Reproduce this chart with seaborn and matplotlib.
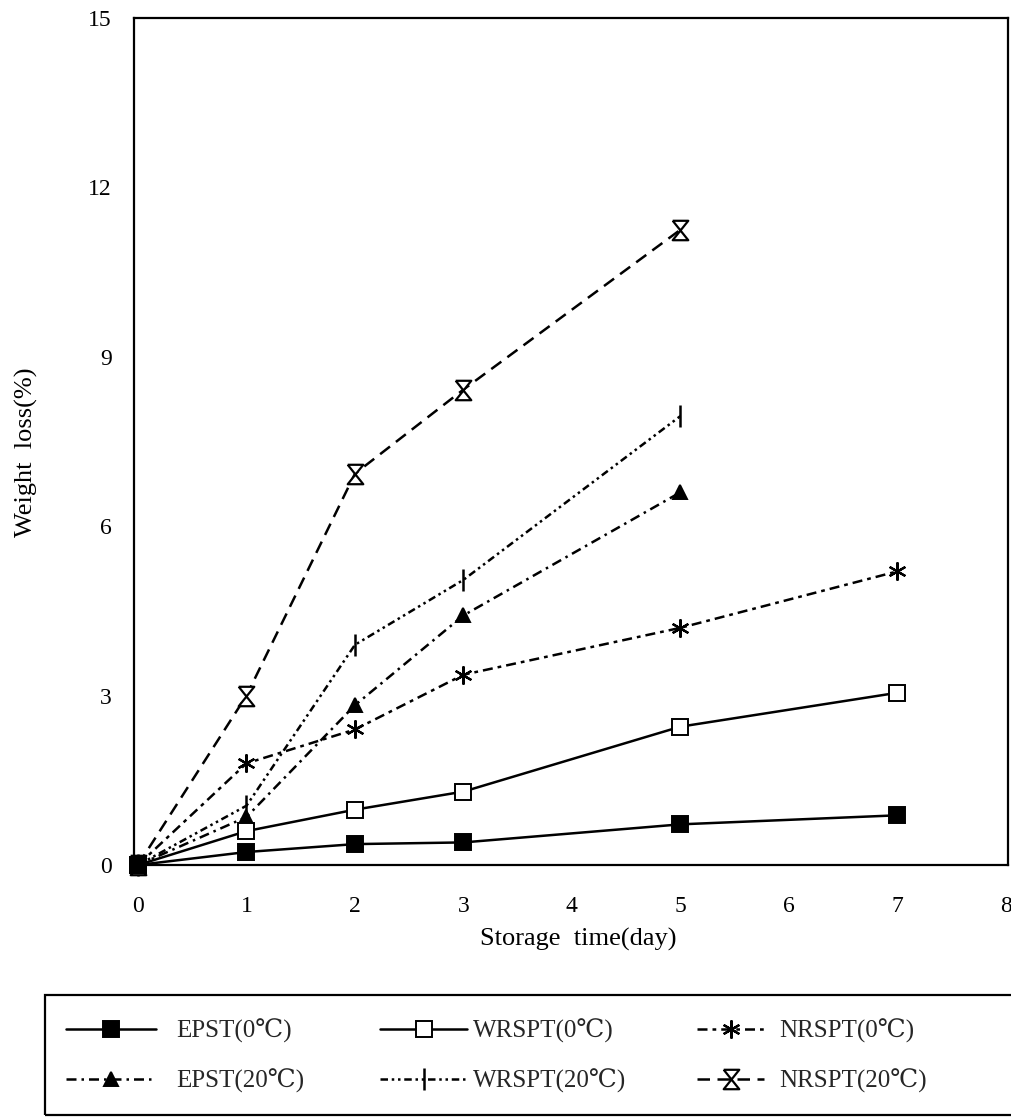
import matplotlib
matplotlib.use("Agg")
import matplotlib.pyplot as plt
import seaborn as sns
from matplotlib.lines import Line2D
from matplotlib.patches import Rectangle

sns.set_theme(style="white")
plt.rcParams['font.family'] = ['Liberation Serif', 'DejaVu Serif']

days_a = [0, 1, 2, 3, 5, 7]
days_b = [0, 1, 2, 3, 5]

epst_0 = [0, 0.23, 0.37, 0.4, 0.72, 0.88]
wrspt_0 = [0, 0.6, 0.98, 1.3, 2.45, 3.05]
nrspt_0 = [0, 1.8, 2.4, 3.37, 4.2, 5.2]
epst_20 = [0, 0.85, 2.83, 4.42, 6.6]
wrspt_20 = [0, 1.05, 3.9, 5.05, 7.95]
nrspt_20 = [0, 3.0, 6.93, 8.42, 11.25]

labels = ["EPST(0℃)", "WRSPT(0℃)", "NRSPT(0℃)",
          "EPST(20℃)", "WRSPT(20℃)", "NRSPT(20℃)"]

x_ticks = [0, 1, 2, 3, 4, 5, 6, 7, 8]
y_ticks = [0, 3, 6, 9, 12, 15]

hourglass = [(-0.8, 1), (0.8, 1), (-0.8, -1), (0.8, -1), (-0.8, 1)]

styles = {
    labels[0]: dict(marker='s', ms=11, mfc='black', ls='-', mew=1.4, z=5),
    labels[1]: dict(marker='s', ms=11, mfc='white', ls='-', mew=1.4, z=3),
    labels[2]: dict(marker=(6, 2, 0), ms=13, mfc='black', ls=(0, (4, 2, 1.5, 2)), mew=1.6, z=2),
    labels[3]: dict(marker='^', ms=10, mfc='black', ls=(0, (4, 2, 1, 2)), mew=1.4, z=2),
    labels[4]: dict(marker='|', ms=16, mfc='black', ls=(0, (3, 1.5, 1, 1.5, 1, 1.5)), mew=1.8, z=2),
    labels[5]: dict(marker=hourglass, ms=14, mfc='white', ls=(0, (5, 3)), mew=1.6, z=2),
}
data = {
    labels[0]: (days_a, epst_0),
    labels[1]: (days_a, wrspt_0),
    labels[2]: (days_a, nrspt_0),
    labels[3]: (days_b, epst_20),
    labels[4]: (days_b, wrspt_20),
    labels[5]: (days_b, nrspt_20),
}

W, H = 1012, 1117
fig = plt.figure(figsize=(W / 100, H / 100), dpi=100)
ax = fig.add_axes([134 / W, 1 - 865 / H, 874 / W, 847 / H])

handles = {}
for lab in labels:
    xs, ys = data[lab]
    st = styles[lab]
    sns.lineplot(x=xs, y=ys, ax=ax, color='black', linewidth=1.8,
                 linestyle=st['ls'], marker=st['marker'], ms=st['ms'],
                 mfc=st['mfc'], mec='black', mew=st['mew'], zorder=st['z'],
                 clip_on=False)
    handles[lab] = Line2D([0], [0], color='black', linewidth=1.8, linestyle=st['ls'],
                          marker=st['marker'], ms=st['ms'], mfc=st['mfc'],
                          mec='black', mew=st['mew'])

ax.set_xlim(-0.037, 8.02)
ax.set_ylim(0, 15)
ax.set_xticks(x_ticks)
ax.set_yticks(y_ticks)
ax.tick_params(direction='inout', length=20, width=1.5, color='black',
               labelsize=17, labelcolor='black')
ax.tick_params(axis='x', pad=12)
ax.tick_params(axis='y', pad=6)
for sp in ax.spines.values():
    sp.set_color('black')
    sp.set_linewidth(1.6)

ax.set_xlabel("Storage  time(day)", fontsize=19, color='black')
ax.set_ylabel("Weight  loss(%)", fontsize=19, color='black')
ax.xaxis.set_label_coords((578 - 134) / 874, (865 - 928) / 847)
ax.yaxis.set_label_coords((38 - 134) / 874, (865 - 452) / 847)

# legend frame
fig.patches.append(Rectangle((45 / W, 2 / H), 1.2, 120 / H,
                             transform=fig.transFigure, fill=False,
                             edgecolor='black', linewidth=1.6))

top = 1 - 1019 / H
cols = [
    ([labels[0], labels[3]], 66, 3.6, 0.8),
    ([labels[1], labels[4]], 380, 3.5, 0.2),
    ([labels[2], labels[5]], 697, 2.7, 0.6),
]
for labs, x0, hl, hp in cols:
    lg = fig.legend([handles[l] for l in labs], labs, loc='upper left',
                    bbox_to_anchor=(x0 / W, top), fontsize=18, frameon=False,
                    handlelength=hl, handletextpad=hp, labelspacing=1.02,
                    borderpad=0, borderaxespad=0)

fig.savefig("out.png", dpi=100, facecolor='white')
